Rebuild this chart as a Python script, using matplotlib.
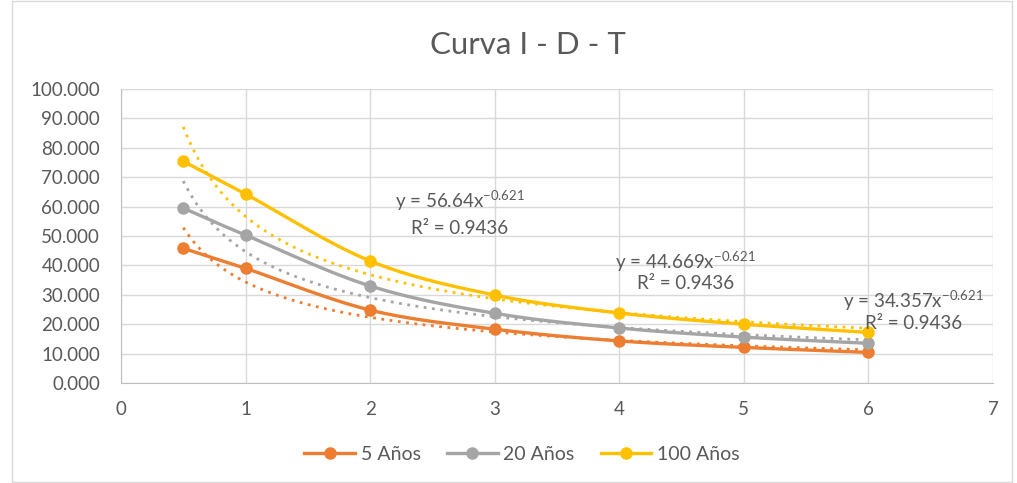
import numpy as np
import matplotlib.pyplot as plt
from matplotlib.patches import Rectangle

plt.rcParams['font.family'] = ['Lato', 'DejaVu Sans']
plt.rcParams['mathtext.fontset'] = 'custom'
plt.rcParams['mathtext.rm'] = 'Lato'

# data
duracion = [0.5, 1, 2, 3, 4, 5, 6]
i_5 = [45.8, 39.0, 24.8, 18.3, 14.3, 12.1, 10.4]
i_20 = [59.5, 50.3, 33.0, 23.7, 18.7, 15.6, 13.5]
i_100 = [75.4, 64.3, 41.5, 29.9, 23.8, 20.0, 17.2]
series_names = ['5 Años', '20 Años', '100 Años']
colores = ['#ED7D31', '#A5A5A5', '#FFC000']
# power trendlines y = a*x^b as shown on the chart
trend_a = [34.357, 44.669, 56.64]
trend_b = -0.621
trend_r2 = 0.9436

def suave(x, y, n=30):
    # catmull-rom like excel smoothed line
    x = np.array(x, float); y = np.array(y, float)
    px = np.concatenate([[2*x[0]-x[1]], x, [2*x[-1]-x[-2]]])
    py = np.concatenate([[2*y[0]-y[1]], y, [2*y[-1]-y[-2]]])
    xs, ys = [], []
    t = np.linspace(0, 1, n)
    for i in range(1, len(px)-2):
        for p, out in ((px, xs), (py, ys)):
            p0, p1, p2, p3 = p[i-1], p[i], p[i+1], p[i+2]
            out.extend(0.5*((2*p1) + (-p0+p2)*t + (2*p0-5*p1+4*p2-p3)*t**2 + (-p0+3*p1-3*p2+p3)*t**3))
    return xs, ys

fig = plt.figure(figsize=(10.17, 4.83), dpi=100)
ax = fig.add_axes([121/1017, 1-383/483, (993-121)/1017, (383-89)/483])
fig.patches.append(Rectangle((12/1017, 0.002), 1000/1017, 0.996, transform=fig.transFigure,
                             fill=False, edgecolor='#d9d9d9', lw=1))

xt = np.linspace(0.5, 6, 200)
for ys, name, c, a in zip([i_5, i_20, i_100], series_names, colores, trend_a):
    sx, sy = suave(duracion, ys)
    ax.plot(sx, sy, color=c, lw=2.4, zorder=3)
    ax.plot(duracion, ys, 'o', color=c, ms=8, zorder=4)
    ax.plot([], [], '-o', color=c, lw=2.4, ms=8, label=name)
    ax.plot(xt, a*xt**trend_b, color=c, lw=2, ls=(0, (1, 2)), zorder=2)

txt_pos = [(6.36, 28.2, 20.4), (4.53, 41.2, 34.0), (2.72, 62.2, 52.7)]
for a, (tx, ty1, ty2) in zip(trend_a, txt_pos):
    ax.text(tx, ty1, 'y = %gx$^{%g}$' % (a, trend_b), ha='center', va='center',
            fontsize=13.5, color='#595959', zorder=5)
    ax.text(tx, ty2, 'R² = %.4f' % trend_r2, ha='center', va='center',
            fontsize=13.5, color='#595959', zorder=5)

ax.set_xlim(0, 7)
ax.set_ylim(0, 100)
ax.set_xticks(range(8))
ax.set_yticks(range(0, 101, 10))
ax.set_yticklabels(['%.3f' % v for v in range(0, 101, 10)])
ax.grid(True, color='#d9d9d9', lw=1)
ax.set_axisbelow(True)
for s in ['top', 'right']:
    ax.spines[s].set_visible(False)
for s in ['left', 'bottom']:
    ax.spines[s].set_color('#bfbfbf')
ax.tick_params(axis='both', colors='#bfbfbf', labelcolor='#595959', labelsize=13.5, length=0)
ax.tick_params(axis='y', pad=15)
ax.tick_params(axis='x', pad=13)
fig.text(528/1017, 1-45/483, 'Curva I - D - T', fontsize=22.5, color='#595959',
         ha='center', va='center')
ax.legend(loc='upper center', bbox_to_anchor=(0.46, -0.155), ncol=3, frameon=False,
          fontsize=14, labelcolor='#595959', handlelength=2.6, handletextpad=0.3,
          columnspacing=1.35)

fig.savefig('out.png', dpi=100)
